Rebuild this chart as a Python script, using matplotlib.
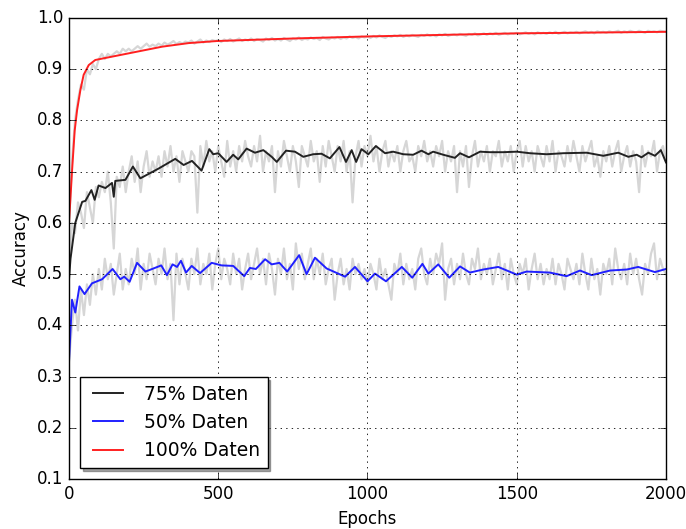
import matplotlib
matplotlib.use('Agg')
import matplotlib.pyplot as plt
import numpy as np

# raw accuracy, read every 10 epochs (0 .. 2000)
raw_epochs = np.arange(0, 2001, 10)

raw_75 = [
    0.50, 0.60, 0.58, 0.64, 0.62, 0.59, 0.66, 0.63, 0.60, 0.67,
    0.65, 0.68, 0.66, 0.70, 0.64, 0.55, 0.69, 0.67, 0.71, 0.66,
    0.70, 0.73, 0.68, 0.72, 0.66, 0.71, 0.74, 0.69, 0.72, 0.70,
    0.73, 0.69, 0.74, 0.71, 0.75, 0.70, 0.73, 0.68, 0.74, 0.72,
    0.70, 0.74, 0.73, 0.62, 0.75, 0.71, 0.76, 0.72, 0.74, 0.70,
    0.75, 0.72, 0.69, 0.76, 0.71, 0.74, 0.70, 0.75, 0.72, 0.76,
    0.73, 0.71, 0.75, 0.72, 0.77, 0.70, 0.74, 0.72, 0.75, 0.66,
    0.74, 0.71, 0.76, 0.73, 0.70, 0.75, 0.72, 0.67, 0.75, 0.73,
    0.71, 0.76, 0.72, 0.74, 0.68, 0.75, 0.71, 0.76, 0.73, 0.70,
    0.75, 0.72, 0.76, 0.70, 0.74, 0.64, 0.73, 0.76, 0.71, 0.75,
    0.73, 0.77, 0.72, 0.75, 0.70, 0.74, 0.76, 0.71, 0.74, 0.72,
    0.75, 0.70, 0.74, 0.76, 0.72, 0.73, 0.70, 0.75, 0.73, 0.76,
    0.72, 0.74, 0.71, 0.75, 0.73, 0.76, 0.70, 0.74, 0.72, 0.75,
    0.66, 0.74, 0.71, 0.75, 0.67, 0.73, 0.76, 0.71, 0.74, 0.72,
    0.75, 0.70, 0.74, 0.73, 0.76, 0.71, 0.74, 0.72, 0.75, 0.70,
    0.74, 0.76, 0.71, 0.75, 0.72, 0.74, 0.70, 0.75, 0.73, 0.71,
    0.75, 0.72, 0.76, 0.70, 0.74, 0.73, 0.71, 0.75, 0.72, 0.76,
    0.73, 0.70, 0.75, 0.72, 0.74, 0.76, 0.71, 0.73, 0.69, 0.74,
    0.72, 0.75, 0.71, 0.74, 0.76, 0.70, 0.73, 0.75, 0.71, 0.74,
    0.72, 0.66, 0.75, 0.71, 0.74, 0.73, 0.76, 0.70, 0.74, 0.75,
    0.72,
]

raw_50 = [
    0.33, 0.40, 0.45, 0.39, 0.47, 0.42, 0.48, 0.44, 0.50, 0.46,
    0.51, 0.47, 0.53, 0.49, 0.52, 0.46, 0.50, 0.54, 0.47, 0.51,
    0.48, 0.53, 0.50, 0.55, 0.47, 0.52, 0.49, 0.54, 0.51, 0.48,
    0.53, 0.50, 0.55, 0.49, 0.52, 0.41, 0.54, 0.48, 0.53, 0.50,
    0.47, 0.53, 0.50, 0.55, 0.48, 0.52, 0.50, 0.54, 0.47, 0.52,
    0.55, 0.49, 0.53, 0.51, 0.48, 0.54, 0.50, 0.53, 0.47, 0.51,
    0.54, 0.49, 0.52, 0.55, 0.50, 0.53, 0.48, 0.54, 0.51, 0.46,
    0.53, 0.50, 0.55, 0.49, 0.52, 0.47, 0.56, 0.51, 0.54, 0.49,
    0.52, 0.55, 0.49, 0.53, 0.50, 0.54, 0.48, 0.51, 0.53, 0.45,
    0.50, 0.53, 0.48, 0.51, 0.47, 0.53, 0.50, 0.52, 0.49, 0.51,
    0.48, 0.52, 0.50, 0.47, 0.53, 0.49, 0.51, 0.48, 0.45, 0.52,
    0.50, 0.54, 0.48, 0.52, 0.49, 0.51, 0.47, 0.53, 0.55, 0.50,
    0.48, 0.53, 0.50, 0.54, 0.52, 0.56, 0.45, 0.51, 0.53, 0.48,
    0.52, 0.49, 0.54, 0.50, 0.48, 0.53, 0.51, 0.55, 0.49, 0.52,
    0.50, 0.53, 0.48, 0.51, 0.54, 0.49, 0.52, 0.47, 0.53, 0.50,
    0.48, 0.52, 0.50, 0.53, 0.47, 0.51, 0.54, 0.49, 0.52, 0.48,
    0.51, 0.49, 0.53, 0.48, 0.52, 0.50, 0.47, 0.53, 0.51, 0.49,
    0.52, 0.48, 0.54, 0.50, 0.47, 0.53, 0.49, 0.51, 0.46, 0.52,
    0.50, 0.53, 0.48, 0.55, 0.51, 0.49, 0.52, 0.48, 0.54, 0.50,
    0.53, 0.49, 0.46, 0.52, 0.50, 0.54, 0.56, 0.49, 0.53, 0.51,
    0.50,
]

raw_100 = [
    0.60, 0.72, 0.80, 0.84, 0.87, 0.86, 0.90, 0.89, 0.91, 0.90,
    0.92, 0.93, 0.92, 0.93, 0.925, 0.93, 0.935, 0.93, 0.94, 0.935,
    0.94, 0.935, 0.94, 0.945, 0.94, 0.945, 0.95, 0.944, 0.948, 0.945,
    0.95, 0.946, 0.952, 0.948, 0.951, 0.955, 0.949, 0.953, 0.95, 0.954,
    0.952, 0.956, 0.95, 0.954, 0.958, 0.952, 0.956, 0.953, 0.957, 0.955,
    0.957, 0.953, 0.958, 0.955, 0.959, 0.954, 0.957, 0.960, 0.955, 0.958,
    0.956, 0.960, 0.955, 0.959, 0.957, 0.954, 0.960, 0.957, 0.961, 0.956,
    0.959, 0.956, 0.961, 0.958, 0.955, 0.960, 0.958, 0.962, 0.957, 0.960,
    0.958, 0.962, 0.959, 0.961, 0.957, 0.963, 0.960, 0.958, 0.962, 0.960,
    0.963, 0.959, 0.962, 0.960, 0.964, 0.961, 0.963, 0.960, 0.964, 0.962,
    0.964, 0.961, 0.965, 0.962, 0.966, 0.963, 0.961, 0.965, 0.963, 0.966,
    0.964, 0.967, 0.963, 0.966, 0.964, 0.967, 0.965, 0.963, 0.967, 0.965,
    0.968, 0.965, 0.967, 0.964, 0.968, 0.966, 0.969, 0.965, 0.967, 0.968,
    0.966, 0.969, 0.967, 0.965, 0.969, 0.967, 0.970, 0.966, 0.968, 0.970,
    0.967, 0.970, 0.968, 0.971, 0.967, 0.969, 0.971, 0.968, 0.970, 0.969,
    0.971, 0.968, 0.970, 0.972, 0.969, 0.971, 0.968, 0.972, 0.970, 0.971,
    0.969, 0.972, 0.970, 0.973, 0.969, 0.971, 0.973, 0.970, 0.972, 0.971,
    0.973, 0.970, 0.972, 0.974, 0.971, 0.973, 0.970, 0.974, 0.972, 0.973,
    0.971, 0.974, 0.972, 0.973, 0.975, 0.971, 0.974, 0.972, 0.975, 0.973,
    0.972, 0.975, 0.973, 0.971, 0.975, 0.973, 0.974, 0.972, 0.975, 0.974,
    0.973,
]

# smoothed curves (epoch, accuracy)
smooth_75_ep = [0, 5, 21, 44, 55, 75, 86, 99, 122, 144, 150, 155, 189, 214, 239, 300,
                356, 384, 412, 444, 470, 483, 500, 528, 550, 567, 595, 623, 651, 679,
                696, 727, 757, 785, 818, 846, 874, 906, 928, 947, 962, 980, 1003, 1028,
                1059, 1086, 1120, 1153, 1181, 1204, 1220, 1254, 1293, 1310, 1340, 1377,
                1410, 1455, 1500, 1544, 1600, 1656, 1734, 1790, 1840, 1874, 1902, 1918,
                1941, 1963, 1983, 2000]
smooth_75 = [0.49, 0.53, 0.60, 0.641, 0.643, 0.664, 0.645, 0.673, 0.668, 0.678, 0.651,
             0.682, 0.684, 0.71, 0.687, 0.706, 0.725, 0.713, 0.721, 0.702, 0.744, 0.734,
             0.736, 0.719, 0.733, 0.724, 0.745, 0.737, 0.742, 0.729, 0.719, 0.741, 0.739,
             0.729, 0.734, 0.735, 0.726, 0.748, 0.719, 0.742, 0.719, 0.744, 0.734, 0.750,
             0.736, 0.739, 0.734, 0.733, 0.741, 0.734, 0.739, 0.733, 0.727, 0.736, 0.728,
             0.739, 0.738, 0.738, 0.739, 0.736, 0.734, 0.736, 0.737, 0.731, 0.737, 0.729,
             0.733, 0.728, 0.737, 0.731, 0.742, 0.718]

smooth_50_ep = [0, 10, 21, 35, 52, 77, 111, 146, 172, 185, 203, 228, 256, 283, 309, 328,
                347, 362, 375, 392, 411, 439, 478, 511, 550, 587, 606, 626, 657, 679, 705,
                731, 771, 796, 824, 863, 925, 958, 1000, 1025, 1062, 1115, 1150, 1184,
                1204, 1237, 1274, 1310, 1343, 1388, 1438, 1500, 1533, 1611, 1667, 1712,
                1751, 1813, 1869, 1907, 1963, 2000]
smooth_50 = [0.33, 0.45, 0.425, 0.476, 0.461, 0.482, 0.49, 0.51, 0.49, 0.495, 0.485,
             0.522, 0.505, 0.511, 0.517, 0.498, 0.519, 0.514, 0.526, 0.503, 0.516, 0.502,
             0.522, 0.517, 0.516, 0.496, 0.512, 0.510, 0.529, 0.519, 0.522, 0.505, 0.537,
             0.500, 0.532, 0.511, 0.495, 0.514, 0.486, 0.501, 0.486, 0.514, 0.493, 0.520,
             0.501, 0.519, 0.493, 0.515, 0.503, 0.509, 0.514, 0.499, 0.505, 0.503, 0.496,
             0.507, 0.498, 0.507, 0.509, 0.514, 0.504, 0.510]

smooth_100_ep = [0, 10, 19, 27, 38, 49, 66, 88, 122, 200, 312, 401, 495, 751, 1000, 1500, 2000]
smooth_100 = [0.60, 0.70, 0.78, 0.82, 0.859, 0.889, 0.908, 0.918, 0.922, 0.931, 0.944,
              0.951, 0.955, 0.960, 0.964, 0.970, 0.973]

plt.style.use('classic')
fig = plt.figure(figsize=(6.86, 5.29), dpi=100, facecolor='white')
ax = fig.add_axes([0.1006, 0.0945, 0.8702, 0.8715])

# noisy raw curves in light gray behind the smoothed ones
ax.plot(raw_epochs, raw_75, color='#d6d6d6', lw=1.6)
ax.plot(raw_epochs, raw_50, color='#d6d6d6', lw=1.6)
ax.plot(raw_epochs, raw_100, color='#d6d6d6', lw=1.6)

ax.plot(smooth_75_ep, smooth_75, color='#222222', lw=1.4, label='75% Daten')
ax.plot(smooth_50_ep, smooth_50, color='#2020ff', lw=1.4, label='50% Daten')
ax.plot(smooth_100_ep, smooth_100, color='#ff2020', lw=1.4, label='100% Daten')

ax.set_xlim(0, 2000)
ax.set_ylim(0.1, 1.0)
ax.set_xticks([0, 500, 1000, 1500, 2000])
ax.set_yticks(np.arange(0.1, 1.01, 0.1))
ax.grid(True, color='k', linestyle=':', lw=0.6)
ax.set_xlabel('Epochs', fontsize=12)
ax.set_ylabel('Accuracy', fontsize=12)
ax.tick_params(labelsize=12)

ax.legend(loc='lower left', fontsize=13.5, shadow=True, fancybox=False,
          handlelength=2.2, borderaxespad=0.6)

fig.savefig('out.png', dpi=100, facecolor='white')
